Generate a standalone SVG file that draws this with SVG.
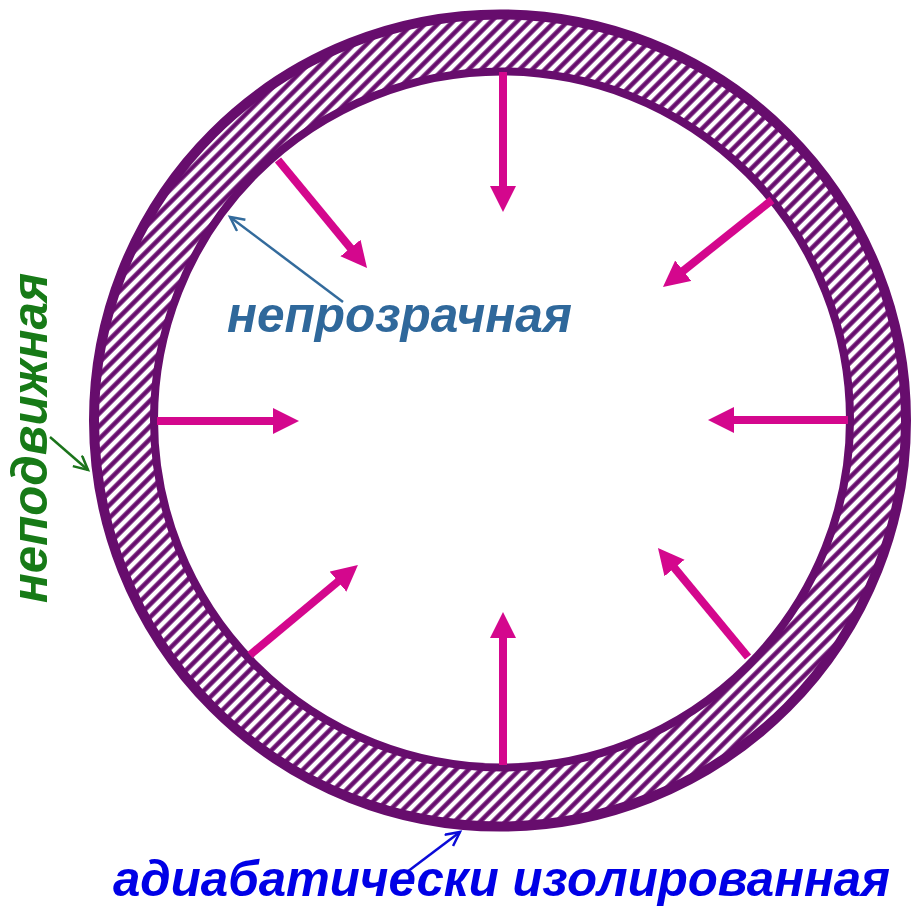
<svg xmlns="http://www.w3.org/2000/svg" width="912" height="910" viewBox="0 0 912 910">
  <style>
    .wall { fill: none; stroke: #670d6d; }
    .heat { stroke: #d4078d; stroke-width: 8; fill: none; marker-end: url(#headM); }
    .lbl { font-family: "Liberation Sans", Arial, sans-serif; font-weight: bold; font-style: italic; font-size: 50px; }
  </style>
  <defs>
    <pattern id="hatch" patternUnits="userSpaceOnUse" width="9" height="9" patternTransform="rotate(45)">
      <rect width="9" height="9" fill="#ffffff"/>
      <line x1="2.5" y1="-1" x2="2.5" y2="10" stroke="#670d6d" stroke-width="4.5"/>
    </pattern>
    <marker id="headM" markerUnits="userSpaceOnUse" markerWidth="28" markerHeight="28" refX="6" refY="13" orient="auto">
      <path d="M0,0 L26,13 L0,26 Z" fill="#d4078d"/>
    </marker>
    <marker id="openSteel" markerUnits="userSpaceOnUse" markerWidth="20" markerHeight="20" refX="16" refY="8" orient="auto">
      <path d="M2,1 L16,8 L2,15" fill="none" stroke="#336b9c" stroke-width="2.5"/>
    </marker>
    <marker id="openGreen" markerUnits="userSpaceOnUse" markerWidth="20" markerHeight="20" refX="16" refY="8" orient="auto">
      <path d="M2,1 L16,8 L2,15" fill="none" stroke="#1b741b" stroke-width="2.5"/>
    </marker>
    <marker id="openBlue" markerUnits="userSpaceOnUse" markerWidth="20" markerHeight="20" refX="16" refY="8" orient="auto">
      <path d="M2,1 L16,8 L2,15" fill="none" stroke="#0a0ad8" stroke-width="2.5"/>
    </marker>
  </defs>

  <g id="vessel">
    <path fill="url(#hatch)" fill-rule="evenodd" d="M500,14.5 A406,406 0 1,1 500,826.5 A406,406 0 1,1 500,14.5 Z M502,71.5 A348,348 0 1,0 502,767.5 A348,348 0 1,0 502,71.5 Z"/>
    <circle class="wall" cx="500" cy="420.5" r="406" stroke-width="10"/>
    <circle class="wall" cx="502" cy="419.5" r="348" stroke-width="8"/>
  </g>

  <g id="connectors">
    <line class="heat" x1="503" y1="72" x2="503" y2="192"/>
    <line class="heat" x1="503" y1="765" x2="503" y2="632"/>
    <line class="heat" x1="157" y1="421" x2="279" y2="421"/>
    <line class="heat" x1="848" y1="420" x2="728" y2="420"/>
    <line class="heat" x1="278" y1="160" x2="354.3" y2="252.6"/>
    <line class="heat" x1="772" y1="200" x2="678.6" y2="274.5"/>
    <line class="heat" x1="250" y1="655" x2="342.6" y2="577.8"/>
    <line class="heat" x1="748" y1="657" x2="670.7" y2="563.4"/>
    <line x1="343" y1="302" x2="230" y2="217" stroke="#336b9c" stroke-width="2.5" marker-end="url(#openSteel)"/>
    <line x1="50" y1="437" x2="88" y2="470" stroke="#1b741b" stroke-width="2.5" marker-end="url(#openGreen)"/>
    <line x1="407" y1="872" x2="460" y2="832" stroke="#0a0ad8" stroke-width="2.5" marker-end="url(#openBlue)"/>
  </g>

  <g id="label-opaque">
    <text class="lbl" x="227" y="332" fill="#2f689b" textLength="345" lengthAdjust="spacingAndGlyphs">непрозрачная</text>
  </g>
  <g id="label-fixed">
    <text class="lbl" transform="translate(47,603) rotate(-90)" x="0" y="0" fill="#177a17" textLength="330" lengthAdjust="spacingAndGlyphs">неподвижная</text>
  </g>
  <g id="label-adiabatic">
    <text class="lbl" x="113" y="896" style="font-size:50px" fill="#0000e6" textLength="777" lengthAdjust="spacingAndGlyphs">адиабатически изолированная</text>
  </g>
</svg>
